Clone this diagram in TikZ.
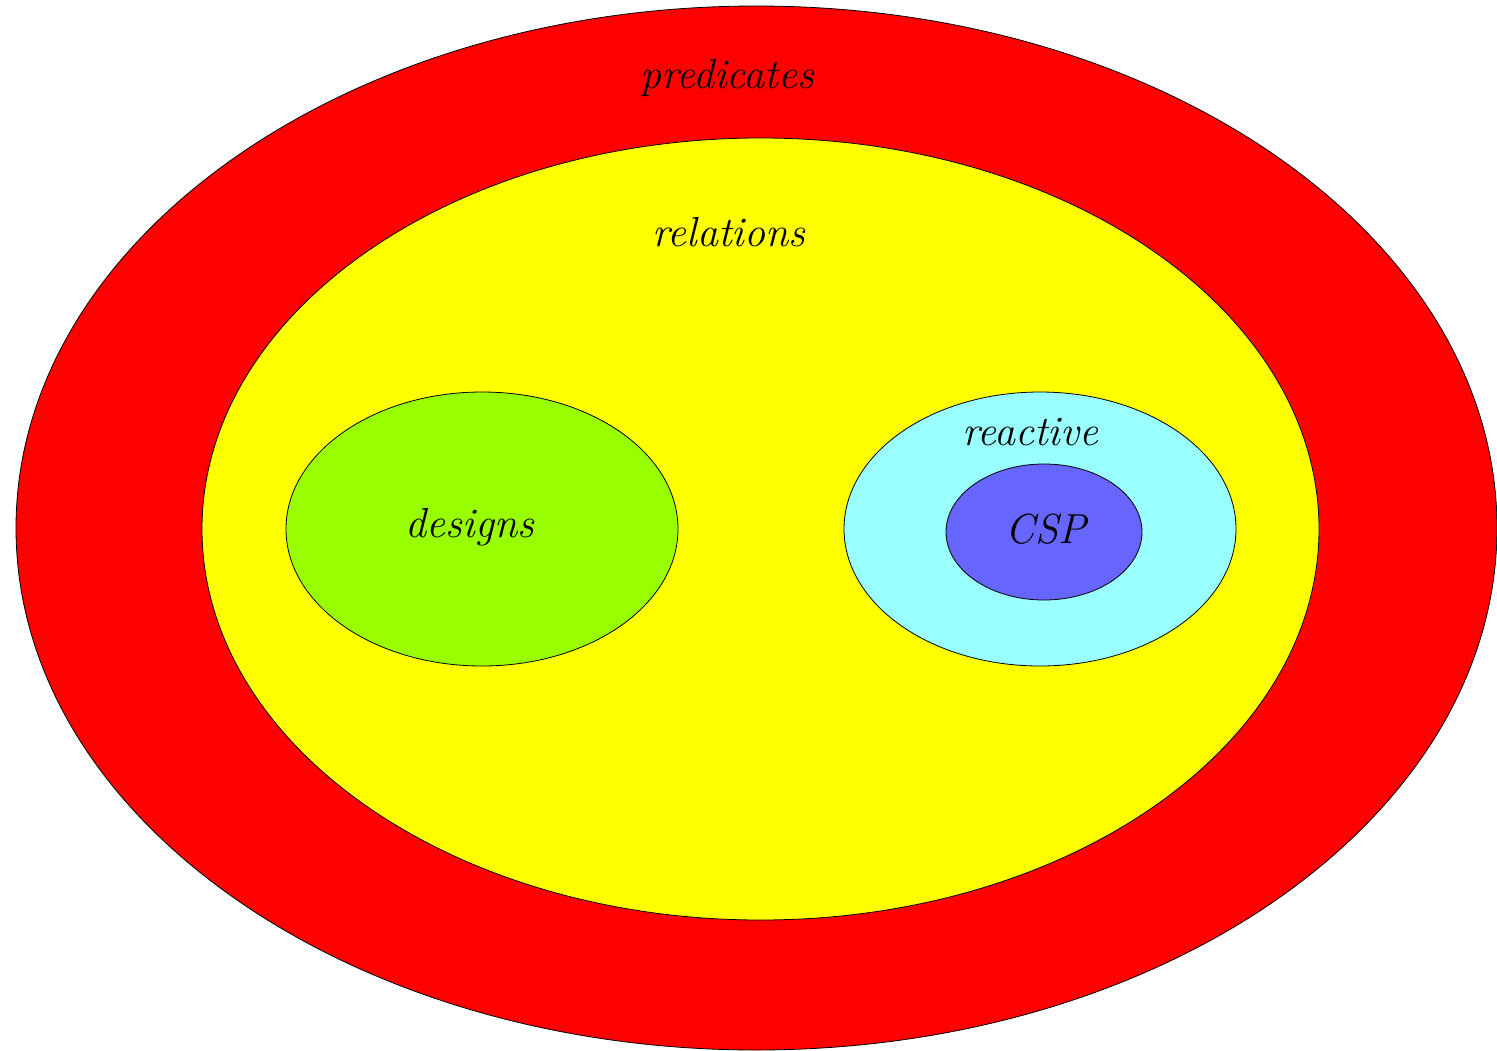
\documentclass[tikz,border=0pt]{standalone}
\usepackage{fix-cm}
\definecolor{cred}{HTML}{FF0000}
\definecolor{cyel}{HTML}{FFFF00}
\definecolor{cgreen}{HTML}{99FF00}
\definecolor{ccyan}{HTML}{99FFFF}
\definecolor{cblue}{HTML}{6666FF}
\begin{document}
\begin{tikzpicture}[x=1pt,y=-1pt,
  setshape/.style={draw=black,line width=0.8pt},
  lbl/.style={font=\fontsize{42}{50}\selectfont\itshape, inner sep=0pt}]
\useasboundingbox (0,0) rectangle (1497,1050);
\filldraw[setshape,fill=cred] (756.5,528) ellipse [x radius=740.5, y radius=522];
\filldraw[setshape,fill=cyel] (760.5,529) ellipse [x radius=558.5, y radius=391];
\filldraw[setshape,fill=cgreen] (482,529) ellipse [x radius=196, y radius=137];
\filldraw[setshape,fill=ccyan] (1040,529) ellipse [x radius=196, y radius=137];
\filldraw[setshape,fill=cblue] (1044,532) ellipse [x radius=98, y radius=68];
\node[lbl] (pred) at (727,78) {predicates};
\node[lbl] (rel) at (729,232) {relations};
\node[lbl] (des) at (470,527) {designs};
\node[lbl] (rea) at (1030,432) {reactive};
\node[lbl] (csp) at (1046,529) {CSP};
\end{tikzpicture}
\end{document}
